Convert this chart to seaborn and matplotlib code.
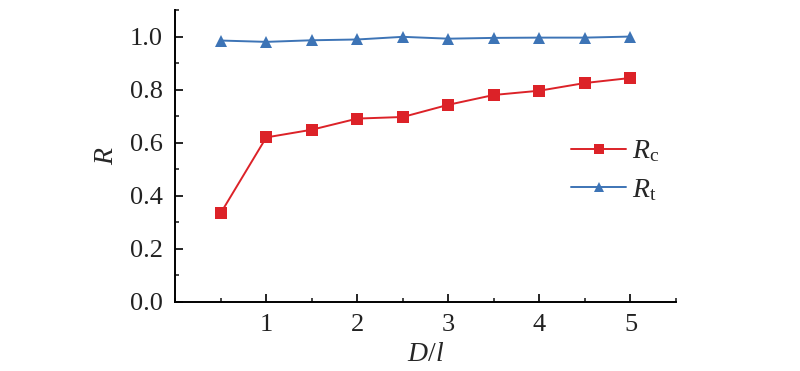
import numpy as np
import pandas as pd
import matplotlib
matplotlib.use("Agg")
import matplotlib.pyplot as plt
import seaborn as sns
from matplotlib.ticker import MultipleLocator, FormatStrFormatter

# ── Data ────────────────────────────────────────────────────────────────────
d_over_l = [0.5, 1.0, 1.5, 2.0, 2.5, 3.0, 3.5, 4.0, 4.5, 5.0]
r_c = [0.335, 0.620, 0.649, 0.691, 0.697, 0.743, 0.780, 0.796, 0.825, 0.844]
r_t = [0.985, 0.980, 0.986, 0.989, 0.999, 0.992, 0.995, 0.996, 0.996, 1.000]
series_labels = [r"$\mathit{R}_\mathrm{c}$", r"$\mathit{R}_\mathrm{t}$"]

red = "#dc2228"
blue = "#3d74b6"

sns.set_theme(style="ticks")
plt.rcParams["font.family"] = ["Liberation Serif", "DejaVu Serif"]
plt.rcParams["mathtext.fontset"] = "custom"
plt.rcParams["mathtext.rm"] = "Liberation Serif"
plt.rcParams["mathtext.it"] = "Liberation Serif:italic"

df = pd.DataFrame({
    "x": d_over_l * 2,
    "R": r_c + r_t,
    "series": [series_labels[0]] * len(r_c) + [series_labels[1]] * len(r_t),
})

fig = plt.figure(figsize=(8, 3.71), dpi=100)
ax = fig.add_axes([0.219, 0.186, 0.626, 0.787])

sns.lineplot(
    data=df, x="x", y="R", hue="series", style="series",
    palette=[red, blue], markers=["s", "^"], dashes=False,
    markersize=8, markeredgewidth=0, linewidth=1.4, ax=ax,
)

ax.set_xlim(0, 5.5)
ax.set_ylim(0, 1.1)
ax.set_xticks([1, 2, 3, 4, 5])
ax.xaxis.set_minor_locator(MultipleLocator(0.5))
ax.set_yticks([0.0, 0.2, 0.4, 0.6, 0.8, 1.0])
ax.yaxis.set_minor_locator(MultipleLocator(0.1))
ax.yaxis.set_major_formatter(FormatStrFormatter("%.1f"))

ax.tick_params(which="major", direction="in", length=6, width=1.2,
               labelsize=19, pad=9, color="black", labelcolor="#222222")
ax.tick_params(which="minor", direction="in", length=3, width=1.2)
for s in ["top", "right"]:
    ax.spines[s].set_visible(False)
for s in ["left", "bottom"]:
    ax.spines[s].set_linewidth(1.4)
    ax.spines[s].set_color("black")

ax.set_xlabel(r"$\mathit{D}/\mathit{l}$", fontsize=20, labelpad=4)
ax.set_ylabel(r"$\mathit{R}$", fontsize=20, labelpad=8)

leg = ax.legend(loc="center left", bbox_to_anchor=(0.79, 0.45), frameon=False,
                fontsize=20, handlelength=2.0, handletextpad=0.2,
                labelspacing=0.45, borderpad=0, borderaxespad=0,
                markerscale=0.85)

fig.savefig("out.png", dpi=100)
